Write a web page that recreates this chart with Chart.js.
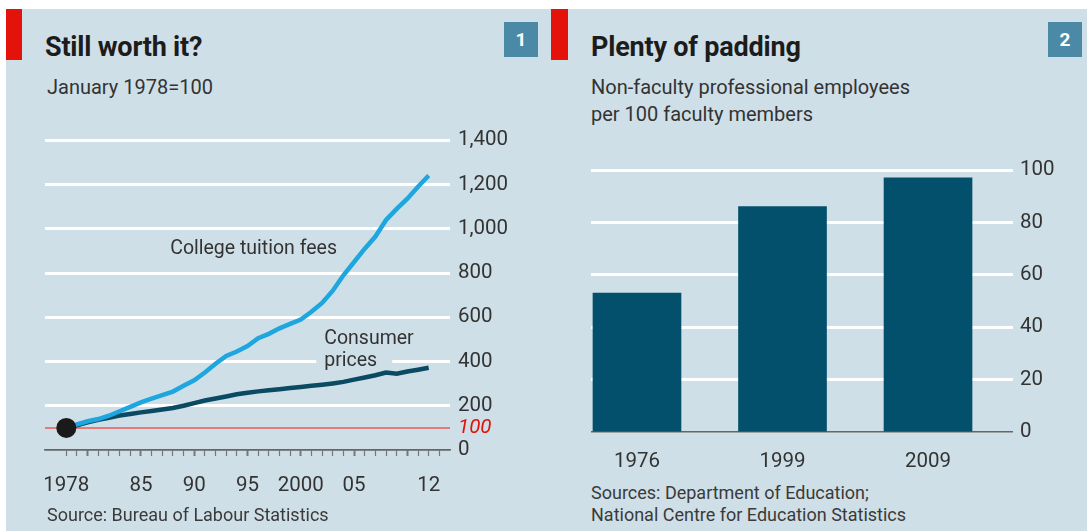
<!DOCTYPE html>
<html>
<head>
<meta charset="utf-8">
<script src="https://cdn.jsdelivr.net/npm/chart.js@4.4.0/dist/chart.umd.min.js"></script>
<style>
  body { margin: 0; background: #fff; font-family: Roboto, 'Noto Sans', sans-serif; }
  #page { position: relative; width: 1087px; height: 531px; overflow: hidden; background: #fff; }
  #panel { position: absolute; left: 6px; top: 9px; width: 1081px; height: 522px; background: #cfdfe7; }
  .abs { position: absolute; white-space: nowrap; }
  .redbar { position: absolute; top: 9px; width: 16px; height: 51px; background: #e3120b; }
  .title { font-size: 27px; font-weight: 700; color: #1c1c1c; line-height: 30px; top: 32px; letter-spacing: -0.2px; }
  .sub { font-size: 20px; color: #333; line-height: 27px; top: 74px; }
  .num { top: 22px; width: 34px; height: 35px; background: #4a8aa7; color: #fff; font-weight: 700; font-size: 19px; line-height: 35px; text-align: center; }
  .src { font-size: 18px; color: #3a3a3a; line-height: 22px; }
  canvas { position: absolute; }
</style>
</head>
<body>
<div id="page">
  <div id="panel"></div>

  <div class="redbar" style="left:6px"></div>
  <div class="abs title" style="left:45px">Still worth it?</div>
  <div class="abs sub" style="left:47px">January 1978=100</div>
  <div class="abs num" style="left:504px">1</div>
  <canvas id="tuitionChart" width="540" height="390" style="left:0;top:120px"></canvas>
  <div class="abs src" style="left:47px;top:504px">Source: Bureau of Labour Statistics</div>

  <div class="redbar" style="left:551px;width:17px"></div>
  <div class="abs title" style="left:591px">Plenty of padding</div>
  <div class="abs sub" style="left:591px">Non-faculty professional employees<br>per 100 faculty members</div>
  <div class="abs num" style="left:1048px">2</div>
  <canvas id="paddingChart" width="541" height="360" style="left:546px;top:120px"></canvas>
  <div class="abs src" style="left:591px;top:482px">Sources: Department of Education;<br>National Centre for Education Statistics</div>
</div>

<script>
// 차트 1: 학비 vs 소비자물가 (1978년 1월 = 100)
const years = [1978, 1979, 1980, 1981, 1982, 1983, 1984, 1985, 1986, 1987, 1988, 1989, 1990, 1991, 1992, 1993, 1994,
  1995, 1996, 1997, 1998, 1999, 2000, 2001, 2002, 2003, 2004, 2005, 2006, 2007, 2008, 2009, 2010, 2011, 2012];
const tuitionFees = [100, 116, 130, 140, 155, 175, 195, 215, 232, 248, 264, 290, 315, 350, 390, 425, 445,
  470, 505, 525, 550, 570, 590, 625, 665, 720, 790, 850, 910, 965, 1040, 1090, 1136, 1190, 1241];
const consumerPrices = [100, 112, 125, 137, 146, 156, 163, 170, 176, 183, 190, 200, 212, 224, 233, 242, 252,
  259, 265, 270, 275, 280, 285, 290, 295, 301, 308, 318, 328, 338, 350, 345, 355, 363, 372];
const yTicksLeft = [0, 100, 200, 400, 600, 800, 1000, 1200, 1400];
const xLabelYears = [1978, 1985, 1990, 1995, 2000, 2005, 2012];
const xLabelText = ['1978', '85', '90', '95', '2000', '05', '12'];

// 차트 2: 교수 100명당 비교수 전문직원 수
const barYears = ['1976', '1999', '2009'];
const staffPer100 = [53, 86, 97];
const yTicksRight = [0, 20, 40, 60, 80, 100];

const BG = '#cfdfe7';
const TICK_FONT = { family: 'Roboto', size: 20.5 };

Chart.defaults.font.family = 'Roboto';
Chart.defaults.color = '#333';

const chartInit = {
  tuitionChart: null,
  paddingChart: null,

  init: function () {
    this.tuitionChart = this.createTuitionChart(document.getElementById('tuitionChart'));
    this.paddingChart = this.createPaddingChart(document.getElementById('paddingChart'));
  },

  // 선 옆에 붙는 라벨 (스케일 좌표로 위치 계산)
  lineLabels: {
    id: 'lineLabels',
    beforeDatasetsDraw: function (chart) {
      const { ctx, scales } = chart;
      const x = scales.x;
      const y = scales.y;
      ctx.save();
      ctx.font = '19.5px Roboto';
      ctx.fillStyle = '#333';
      ctx.textBaseline = 'middle';
      ctx.fillText('College tuition fees', x.getPixelForValue(1987.75), y.getPixelForValue(906));

      const cx = x.getPixelForValue(2002.2);
      // prices 뒤쪽 격자선 가리기
      ctx.fillStyle = BG;
      ctx.fillRect(cx - 8, y.getPixelForValue(440), 76, y.getPixelForValue(360) - y.getPixelForValue(440));
      ctx.fillStyle = '#333';
      ctx.fillText('Consumer', cx, y.getPixelForValue(502));
      ctx.fillText('prices', cx, y.getPixelForValue(404));
      ctx.restore();
    },
  },

  createTuitionChart: function (canvas) {
    const toPoints = (arr) => years.map((yr, i) => ({ x: yr, y: arr[i] }));
    return new Chart(canvas, {
      type: 'line',
      data: {
        datasets: [
          {
            label: 'base',
            data: [{ x: years[0], y: tuitionFees[0] }],
            showLine: false,
            pointRadius: 10,
            pointBackgroundColor: '#1a1a1a',
            pointBorderWidth: 0,
          },
          { label: 'College tuition fees', data: toPoints(tuitionFees), borderColor: '#1ea6de', borderWidth: 4.5, pointRadius: 0 },
          { label: 'Consumer prices', data: toPoints(consumerPrices), borderColor: '#0b4a63', borderWidth: 4.5, pointRadius: 0 },
        ],
      },
      options: {
        responsive: false,
        animation: false,
        devicePixelRatio: 1,
        layout: { padding: { left: 45, top: 18, right: 0, bottom: 0 } },
        plugins: { legend: { display: false }, tooltip: { enabled: false } },
        scales: {
          x: {
            type: 'linear',
            min: 1976,
            max: 2014,
            afterBuildTicks: (scale) => {
              const ticks = [];
              for (let yr = 1978; yr <= 2013; yr++) ticks.push({ value: yr });
              scale.ticks = ticks;
            },
            afterFit: (scale) => { scale.height = 60; },
            grid: {
              drawOnChartArea: false,
              tickLength: 6,
              tickColor: '#777',
              tickWidth: (c) => (c.tick && (c.tick.value % 5 === 0) ? 2 : 1.2),
            },
            border: { display: true, color: '#666', width: 1.5 },
            ticks: {
              autoSkip: false,
              maxRotation: 0,
              padding: 18,
              font: TICK_FONT,
              color: '#333',
              callback: (v) => {
                const idx = xLabelYears.indexOf(v);
                return idx === -1 ? '' : xLabelText[idx];
              },
            },
          },
          y: {
            position: 'right',
            min: 0,
            max: 1400,
            afterBuildTicks: (scale) => { scale.ticks = yTicksLeft.map((v) => ({ value: v })); },
            afterFit: (scale) => { scale.width = 90; },
            grid: {
              drawTicks: false,
              color: (c) => (c.tick.value === 0 ? '#666' : c.tick.value === 100 ? '#e57a7a' : '#ffffff'),
              lineWidth: (c) => (c.tick.value === 0 ? 1.5 : c.tick.value === 100 ? 2 : 3),
            },
            border: { display: false },
            ticks: {
              padding: 8,
              color: (c) => (c.tick.value === 100 ? '#e3120b' : '#333'),
              font: (c) => (c.tick && c.tick.value === 100 ? { ...TICK_FONT, style: 'italic' } : TICK_FONT),
              callback: (v) => v.toLocaleString('en-US'),
            },
          },
        },
      },
      plugins: [this.lineLabels],
    });
  },

  createPaddingChart: function (canvas) {
    return new Chart(canvas, {
      type: 'bar',
      data: {
        datasets: [{
          label: 'Non-faculty professional employees',
          data: staffPer100.map((v, i) => ({ x: i, y: v })),
          backgroundColor: '#02506c',
          barThickness: 88,
        }],
      },
      options: {
        responsive: false,
        animation: false,
        devicePixelRatio: 1,
        layout: { padding: { left: 45, top: 50, right: 0, bottom: 0 } },
        plugins: { legend: { display: false }, tooltip: { enabled: false } },
        scales: {
          x: {
            type: 'linear',
            offset: false,
            min: -0.316,
            max: 2.584,
            afterBuildTicks: (scale) => { scale.ticks = barYears.map((_, i) => ({ value: i })); },
            afterFit: (scale) => { scale.height = 48; },
            grid: { display: false, offset: false },
            border: { display: false },
            ticks: {
              padding: 10,
              font: TICK_FONT,
              color: '#333',
              callback: (v) => barYears[v],
            },
          },
          y: {
            position: 'right',
            min: 0,
            max: 100,
            afterBuildTicks: (scale) => { scale.ticks = yTicksRight.map((v) => ({ value: v })); },
            afterFit: (scale) => { scale.width = 74; },
            grid: {
              drawTicks: false,
              color: (c) => (c.tick.value === 0 ? '#666' : '#ffffff'),
              lineWidth: (c) => (c.tick.value === 0 ? 1.5 : 3),
            },
            border: { display: false },
            ticks: { padding: 7, font: TICK_FONT, color: '#333' },
          },
        },
      },
    });
  },
};

chartInit.init();
</script>
</body>
</html>
